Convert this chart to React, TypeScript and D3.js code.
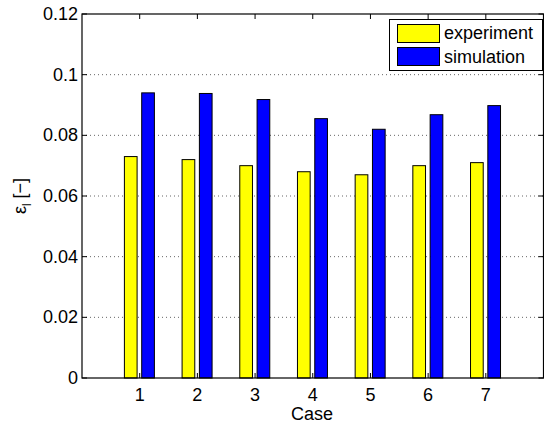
import React from "react";
import * as d3 from "d3";

const cases = [1, 2, 3, 4, 5, 6, 7];
const experiment = [0.073, 0.072, 0.070, 0.068, 0.067, 0.070, 0.071];
const simulation = [0.094, 0.0938, 0.0918, 0.0855, 0.082, 0.0868, 0.0898];
const yTicks = [0, 0.02, 0.04, 0.06, 0.08, 0.1, 0.12];
const yTickLabels = ["0", "0.02", "0.04", "0.06", "0.08", "0.1", "0.12"];
const seriesNames = ["experiment", "simulation"];
const seriesColors = ["#ffff00", "#0000ff"];

const W = 544, H = 426;
const L = 82, R = 543.5, T = 14, B = 378;
const FONT = "'Liberation Sans', Arial, Helvetica, sans-serif";

export default function App() {
  const x = d3.scaleLinear().domain([0, 8]).range([L, R]);
  const y = d3.scaleLinear().domain([0, 0.12]).range([B, T]);
  const offsets = [-0.155, 0.145];
  const bw = 0.22;
  const series = [experiment, simulation];
  const tl = 5;
  const fs = 18;
  return (
    <svg width={W} height={H} style={{ position: "absolute", left: 0, top: 0, background: "#fff" }} fontFamily={FONT}>
      <rect x={0} y={0} width={W} height={H} fill="#fff" />
      {yTicks.slice(1, -1).map((t) => (
        <line key={"g" + t} x1={L} x2={R} y1={y(t)} y2={y(t)} stroke="#666" strokeWidth={1} strokeDasharray="1,3" />
      ))}
      {series.map((s, si) =>
        s.map((v, i) => {
          const xc = cases[i] + offsets[si];
          const x0 = x(xc - bw / 2);
          const x1 = x(xc + bw / 2);
          return (
            <rect key={si + "-" + i} x={x0} y={y(v)} width={x1 - x0} height={y(0) - y(v)}
              fill={seriesColors[si]} stroke="#000" strokeWidth={1} />
          );
        })
      )}
      <rect x={L} y={T} width={R - L} height={B - T} fill="none" stroke="#000" strokeWidth={1.2} />
      {cases.map((c) => (
        <g key={"xt" + c}>
          <line x1={x(c)} x2={x(c)} y1={B} y2={B - tl} stroke="#000" />
          <line x1={x(c)} x2={x(c)} y1={T} y2={T + tl} stroke="#000" />
          <text x={x(c)} y={B + 23} textAnchor="middle" fontSize={fs}>{c}</text>
        </g>
      ))}
      {yTicks.map((t, i) => (
        <g key={"yt" + t}>
          <line x1={L} x2={L + tl} y1={y(t)} y2={y(t)} stroke="#000" />
          <line x1={R} x2={R - tl} y1={y(t)} y2={y(t)} stroke="#000" />
          <text x={L - 4} y={y(t) + 6} textAnchor="end" fontSize={fs}>{yTickLabels[i]}</text>
        </g>
      ))}
      <text x={312} y={420} textAnchor="middle" fontSize={fs}>Case</text>
      <text transform={`translate(26, ${(T + B) / 2}) rotate(-90)`} textAnchor="middle" fontSize={fs}>
        ε<tspan fontSize={12} dy={5}>l</tspan><tspan dy={-5}> [−]</tspan>
      </text>
      <g>
        <rect x={389.5} y={19.5} width={153} height={51} fill="#fff" stroke="#000" strokeWidth={1} />
        {seriesNames.map((n, i) => (
          <g key={n}>
            <rect x={397.5} y={24.5 + i * 23} width={42} height={18} fill={seriesColors[i]} stroke="#000" />
            <text x={444} y={39 + i * 24} fontSize={fs}>{n}</text>
          </g>
        ))}
      </g>
    </svg>
  );
}
